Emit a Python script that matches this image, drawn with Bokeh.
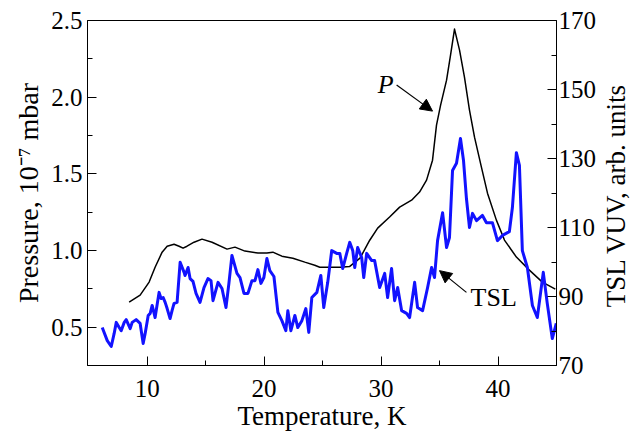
import math
from bokeh.plotting import figure
from bokeh.layouts import row
from bokeh.models import Range1d, LinearAxis, FixedTicker, Label, Arrow, NormalHead, PrintfTickFormatter
from bokeh.embed import file_html
from bokeh.resources import INLINE

# Pressure curve (left axis, 10^-7 mbar)
p_temp = [8.46, 9.40, 10.17, 10.68, 11.28, 11.71, 12.30, 12.73, 13.07, 13.41, 14.01, 14.69,
          15.55, 16.83, 17.51, 18.36, 19.47, 20.24, 20.75, 21.52, 22.46, 23.48, 24.33, 24.76,
          25.44, 26.5, 27.3, 28.2, 29.03, 29.71, 30.73, 31.59, 32.61, 33.29, 33.89, 34.40,
          34.74, 35.09, 35.60, 35.94, 36.28, 36.71, 37.13, 37.56, 37.99, 38.58, 39.10, 39.86,
          40.55, 41.57, 42.68, 43.79, 44.90]
p_press = [0.663, 0.709, 0.794, 0.891, 0.989, 1.028, 1.041, 1.028, 1.015, 1.028, 1.054, 1.074,
           1.054, 1.009, 1.022, 0.996, 0.983, 0.983, 0.989, 0.963, 0.950, 0.924, 0.904, 0.891,
           0.891, 0.89, 0.895, 0.95, 1.067, 1.146, 1.218, 1.283, 1.328, 1.381, 1.459, 1.589,
           1.818, 1.948, 2.111, 2.274, 2.444, 2.307, 2.131, 1.916, 1.739, 1.544, 1.374, 1.198,
           1.068, 0.957, 0.872, 0.794, 0.748]

# TSL VUV curve (right axis, arb. units)
tsl_temp = [6.16, 6.59, 6.93, 7.18, 7.36, 7.61, 7.78, 8.04, 8.21, 8.55, 8.72, 9.06, 9.40, 9.66,
            9.83, 10.09, 10.26, 10.43, 10.68, 11.02, 11.19, 11.37, 11.54, 11.71, 11.96, 12.13,
            12.30, 12.56, 12.82, 13.16, 13.24, 13.50, 13.67, 13.92, 14.18, 14.52, 14.86, 15.20,
            15.46, 15.63, 16.06, 16.40, 16.74, 16.99, 17.25, 17.68, 17.94, 18.28, 18.62, 18.96,
            19.22, 19.47, 19.73, 19.98, 20.24, 20.49, 20.84, 21.18, 21.52, 21.86, 22.03, 22.29,
            22.63, 22.88, 23.23, 23.57, 23.82, 24.08, 24.51, 24.85, 25.10, 25.44, 25.78, 26.21,
            26.47, 26.72, 27.06, 27.32, 27.58, 27.75, 28.00, 28.34, 28.52, 28.77, 29.20, 29.45,
            29.88, 30.31, 30.56, 30.90, 31.16, 31.42, 31.76, 32.18, 32.44, 32.87, 33.12, 33.55,
            33.98, 34.32, 34.57, 34.83, 35.26, 35.60, 35.85, 36.11, 36.45, 36.79, 37.05, 37.30,
            37.56, 37.82, 38.16, 38.67, 39.01, 39.52, 39.95, 40.38, 40.97, 41.23, 41.57, 41.83,
            42.08, 42.51, 42.94, 43.36, 43.87, 44.21, 44.64, 44.98]
tsl_val = [81.0, 77.2, 75.5, 79.3, 82.5, 81.0, 80.1, 82.5, 83.3, 80.7, 82.5, 83.3, 82.2, 76.4,
           79.3, 84.5, 85.1, 87.4, 83.9, 91.2, 89.4, 89.7, 88.3, 86.5, 83.6, 85.9,
           88.0, 88.3, 99.9, 97.0, 96.1, 98.4, 95.2, 94.4, 90.9, 88.3, 92.6, 95.2,
           94.6, 88.8, 94.1, 92.3, 86.8, 93.8, 101.9, 96.7, 95.5, 90.9, 90.9, 94.6,
           94.6, 97.8, 93.8, 95.5, 101.0, 97.5, 95.8, 85.4, 83.0, 80.1, 85.9, 80.1,
           84.5, 81.0, 83.0, 86.5, 79.6, 89.7, 91.2, 96.1, 86.8, 94.1, 103.3, 102.5,
           102.5, 98.1, 102.5, 105.7, 103.3, 98.4, 104.2, 101.3, 95.5, 102.5, 100.4, 100.4,
           92.6, 96.7, 89.7, 98.1, 88.8, 92.6, 85.9, 85.1, 83.9, 94.1, 86.8, 85.9,
           92.6, 98.4, 95.5, 106.2, 114.3, 104.2, 107.1, 126.5, 128.6, 135.8, 129.4, 118.4,
           110.0, 114.1, 112.0, 113.5, 111.4, 111.4, 106.2, 107.7, 108.8, 115.8, 131.7, 128.0,
           103.3, 98.4, 87.4, 83.9, 97.0, 88.0, 77.8, 82.2]

x_ticks = [10, 20, 30, 40]
x_minor = [15, 25, 35]
left_ticks = [0.5, 1.0, 1.5, 2.0, 2.5]
left_minor = [0.75, 1.25, 1.75, 2.25]
right_ticks = [70, 90, 110, 130, 150, 170]
right_minor = [80, 100, 120, 140, 160]

FONT = "Liberation Serif"

p = figure(width=600, height=434, output_backend="svg", toolbar_location=None,
           x_range=Range1d(4.9, 45), y_range=Range1d(0.25, 2.5),
           min_border_left=87, min_border_right=44, min_border_top=20, min_border_bottom=69)
p.extra_y_ranges = {"tsl": Range1d(70, 170)}
p.xgrid.visible = False
p.ygrid.visible = False
p.outline_line_color = "black"
p.outline_line_width = 1
p.background_fill_color = "white"
p.border_fill_color = "white"

right_axis = LinearAxis(y_range_name="tsl")
p.add_layout(right_axis, "right")

p.xaxis.ticker = FixedTicker(ticks=x_ticks, minor_ticks=x_minor)
p.yaxis[0].ticker = FixedTicker(ticks=left_ticks, minor_ticks=left_minor)
p.yaxis[0].formatter = PrintfTickFormatter(format="%.1f")
right_axis.ticker = FixedTicker(ticks=right_ticks, minor_ticks=right_minor)
right_axis.formatter = PrintfTickFormatter(format="%d")

p.xaxis.axis_label = "Temperature, K"
p.yaxis[0].axis_label = "Pressure, 10\u207b\u2077 mbar"

for ax in [p.xaxis[0], p.yaxis[0], right_axis]:
    ax.major_tick_in = 9
    ax.major_tick_out = 0
    ax.minor_tick_in = 5
    ax.minor_tick_out = 0
    ax.axis_line_color = "black"
    ax.major_tick_line_color = "black"
    ax.minor_tick_line_color = "black"
    ax.major_label_text_font = FONT
    ax.major_label_text_font_size = "25px"
    ax.major_label_text_color = "black"
    ax.axis_label_text_font = FONT
    ax.axis_label_text_font_size = "27px"
    ax.axis_label_text_font_style = "normal"
    ax.axis_label_text_color = "black"

p.yaxis[0].axis_label_text_font_size = "28px"
p.xaxis[0].major_label_standoff = 14
p.xaxis[0].axis_label_standoff = 1
p.yaxis[0].major_label_standoff = 5
p.yaxis[0].axis_label_standoff = 4
right_axis.major_label_standoff = 2

p.line(p_temp, p_press, line_color="black", line_width=1.5, line_join="round")
p.line(tsl_temp, tsl_val, y_range_name="tsl", line_color="#1212ff", line_width=3,
       line_join="round")

# annotations
p.add_layout(Label(x=29.71, y=2.085, text="P", text_font=FONT, text_font_style="italic",
                   text_font_size="26px", text_align="left", text_baseline="alphabetic",
                   text_color="black"))
p.add_layout(Arrow(x_start=31.33, y_start=2.079, x_end=34.40, y_end=1.909, line_width=1.2,
                   line_color="black",
                   end=NormalHead(size=12, fill_color="black", line_color="black")))
p.add_layout(Label(x=37.65, y=89.6, y_range_name="tsl", text="TSL", text_font=FONT,
                   text_font_size="26px", text_align="left", text_baseline="alphabetic",
                   text_color="black"))
p.add_layout(Arrow(x_start=37.30, y_start=91.2, x_end=35.0, y_end=97.5, y_range_name="tsl",
                   line_width=1.2, line_color="black",
                   end=NormalHead(size=12, fill_color="black", line_color="black")))

# narrow strip to the right holding the right-axis title (reads bottom to top)
p2 = figure(width=30, height=434, output_backend="svg", toolbar_location=None,
            x_range=Range1d(0, 1), y_range=Range1d(0, 1), x_axis_type=None, y_axis_type=None,
            min_border=0, min_border_left=0, min_border_right=0, min_border_top=0,
            min_border_bottom=0)
p2.outline_line_color = None
p2.xgrid.visible = False
p2.ygrid.visible = False
p2.background_fill_color = "white"
p2.border_fill_color = "white"
p2.add_layout(Label(x=0.5, y=0.493, text="TSL VUV, arb. units", angle=math.pi / 2,
                    text_align="center", text_baseline="middle", text_font=FONT,
                    text_font_size="27px", text_color="black"))

layout = row(p, p2, spacing=0)

open("out.html", "w").write(file_html(layout, INLINE))
